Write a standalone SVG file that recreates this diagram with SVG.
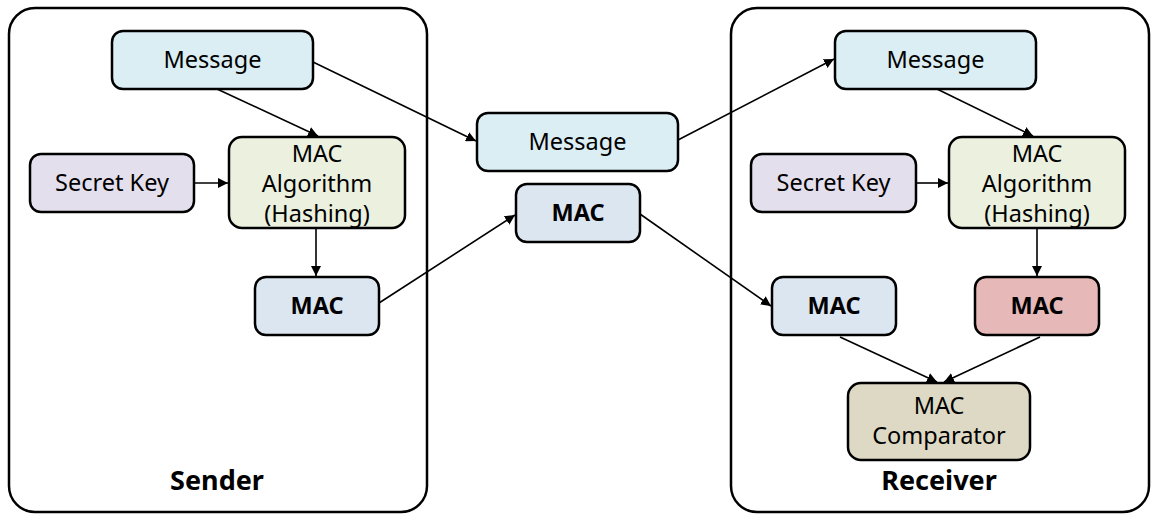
<svg xmlns="http://www.w3.org/2000/svg" width="1157" height="520" viewBox="0 0 1157 520">
<defs>
<marker id="ah" viewBox="0 0 10 10" refX="10" refY="5" markerWidth="10" markerHeight="10" markerUnits="userSpaceOnUse" orient="auto">
<path d="M0,0 L10,5 L0,10 z" fill="#000"/>
</marker>
<style>
.box{stroke:#000;stroke-width:2.5}
.cont{fill:#fff;stroke:#000;stroke-width:2.5}
.t{font-family:"Noto Sans","Open Sans","DejaVu Sans",sans-serif;font-size:23.5px;fill:#000;text-anchor:middle}
.b{font-weight:bold}
.lbl{font-family:"Noto Sans","Open Sans","DejaVu Sans",sans-serif;font-size:27px;font-weight:bold;fill:#000;text-anchor:middle}
.c{stroke:#000;stroke-width:1.6;fill:none;marker-end:url(#ah)}
.msg{fill:#DAEEF3}.key{fill:#E4DFEC}.alg{fill:#EBF1DE}.mac{fill:#DCE6F1}.red{fill:#E6B8B7}.cmp{fill:#DDD9C4}
</style>
</defs>
<rect width="1157" height="520" fill="#fff"/>
<g id="sender">
<rect class="cont" x="9" y="8" width="418" height="504" rx="26"/>
<text class="lbl" x="217" y="490">Sender</text>
</g>
<g id="receiver">
<rect class="cont" x="731" y="8" width="418" height="504" rx="26"/>
<text class="lbl" x="939" y="490">Receiver</text>
</g>
<g id="connectors">
<line class="c" x1="217" y1="89" x2="318" y2="136"/>
<line class="c" x1="313" y1="62" x2="476" y2="141"/>
<line class="c" x1="194" y1="183" x2="228" y2="183"/>
<line class="c" x1="316" y1="228" x2="316" y2="276"/>
<line class="c" x1="379" y1="303" x2="515" y2="215"/>
<line class="c" x1="678" y1="140" x2="834" y2="59"/>
<line class="c" x1="640" y1="214" x2="771" y2="306"/>
<line class="c" x1="937" y1="89" x2="1033" y2="136"/>
<line class="c" x1="916" y1="183" x2="948" y2="183"/>
<line class="c" x1="1037" y1="228" x2="1037" y2="276"/>
<line class="c" x1="840" y1="337" x2="937" y2="382"/>
<line class="c" x1="1040" y1="337" x2="944" y2="382"/>
</g>
<g id="s-message"><rect class="box msg" x="112" y="31" width="201" height="58" rx="11"/><text class="t" x="212.5" y="68">Message</text></g>
<g id="s-key"><rect class="box key" x="30" y="154" width="164" height="58" rx="11"/><text class="t" x="112" y="191">Secret Key</text></g>
<g id="s-alg"><rect class="box alg" x="229" y="137" width="176" height="91" rx="13"/><text class="t" x="317" y="162">MAC</text><text class="t" x="317" y="192">Algorithm</text><text class="t" x="317" y="222">(Hashing)</text></g>
<g id="s-mac"><rect class="box mac" x="255" y="277" width="124" height="58" rx="11"/><text class="t b" x="317" y="314">MAC</text></g>
<g id="m-message"><rect class="box msg" x="477" y="113" width="201" height="58" rx="11"/><text class="t" x="577.5" y="150">Message</text></g>
<g id="m-mac"><rect class="box mac" x="516" y="184" width="124" height="58" rx="11"/><text class="t b" x="578" y="221">MAC</text></g>
<g id="r-message"><rect class="box msg" x="835" y="31" width="201" height="58" rx="11"/><text class="t" x="935.5" y="68">Message</text></g>
<g id="r-key"><rect class="box key" x="751" y="154" width="165" height="58" rx="11"/><text class="t" x="833.5" y="191">Secret Key</text></g>
<g id="r-alg"><rect class="box alg" x="949" y="137" width="176" height="91" rx="13"/><text class="t" x="1037" y="162">MAC</text><text class="t" x="1037" y="192">Algorithm</text><text class="t" x="1037" y="222">(Hashing)</text></g>
<g id="r-mac"><rect class="box mac" x="772" y="277" width="124" height="58" rx="11"/><text class="t b" x="834" y="314">MAC</text></g>
<g id="r-mac2"><rect class="box red" x="975" y="277" width="124" height="58" rx="11"/><text class="t b" x="1037" y="314">MAC</text></g>
<g id="r-cmp"><rect class="box cmp" x="848" y="383" width="182" height="77" rx="13"/><text class="t" x="939" y="414">MAC</text><text class="t" x="939" y="444">Comparator</text></g>
</svg>
